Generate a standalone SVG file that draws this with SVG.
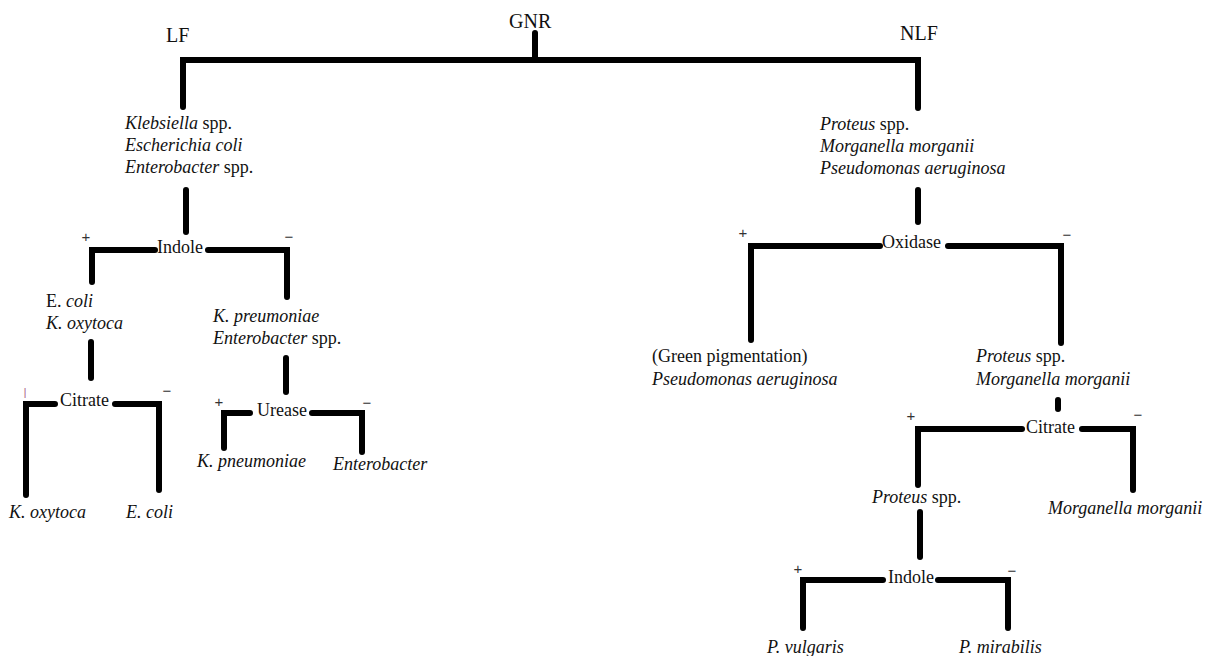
<svg xmlns="http://www.w3.org/2000/svg" width="1206" height="656" viewBox="0 0 1206 656">
<style>
text{font-family:"Liberation Serif","Times New Roman",serif;font-size:18px;fill:#111}
.top{font-size:20px}
.i{font-style:italic}
.sg{font-family:"Liberation Sans",Arial,sans-serif;font-size:15px;text-anchor:middle;fill:#333}
.ln{fill:none;stroke:#000;stroke-width:6;stroke-linecap:round;stroke-linejoin:miter}
</style>
<rect width="1206" height="656" fill="#fff"/>
<g id="connectors" class="ln">
<path d="M535 33V60"/>
<path d="M183 107V60H918V108"/>
<path d="M186 190V232"/>
<path d="M92 282V250H155"/>
<path d="M208 250H287V297"/>
<path d="M91 342V378"/>
<path d="M26 495V404H55"/>
<path d="M115 404H159V490"/>
<path d="M286 358V392"/>
<path d="M224 448V413H250"/>
<path d="M312 413H362V452"/>
<path d="M918 190V222"/>
<path d="M751 340V246H880"/>
<path d="M948 246H1061V343"/>
<path d="M1058 400V409"/>
<path d="M918 485V429H1022"/>
<path d="M1082 429H1133V490"/>
<path d="M920 512V557"/>
<path d="M803 628V580H883"/>
<path d="M938 580H1008V628"/>
</g>
<g id="gnr"><text class="top" x="509" y="28">GNR</text></g>
<g id="lf"><text class="top" x="166" y="42">LF</text></g>
<g id="nlf"><text class="top" x="900" y="40">NLF</text></g>
<g id="lf-group">
<text x="125" y="129"><tspan class="i">Klebsiella</tspan> spp.</text>
<text x="125" y="151" class="i">Escherichia coli</text>
<text x="125" y="173"><tspan class="i">Enterobacter</tspan> spp.</text>
</g>
<g id="indole-left">
<text x="157" y="253">Indole</text>
<text class="sg" x="86" y="242">+</text>
<text class="sg" x="289" y="242">−</text>
</g>
<g id="ecoli-koxytoca">
<text x="46" y="307">E. <tspan class="i">coli</tspan></text>
<text x="46" y="329" class="i">K. oxytoca</text>
</g>
<g id="kpneu-entero">
<text x="213" y="322" class="i">K. preumoniae</text>
<text x="213" y="344"><tspan class="i">Enterobacter</tspan> spp.</text>
</g>
<g id="citrate-left">
<text x="60" y="406">Citrate</text>
<text class="sg" x="25" y="396" style="font-size:10px;fill:#a04a78">|</text>
<text class="sg" x="167" y="396">−</text>
</g>
<g id="koxytoca"><text x="9" y="518" class="i">K. oxytoca</text></g>
<g id="ecoli"><text x="126" y="518" class="i">E. coli</text></g>
<g id="urease">
<text x="257" y="416">Urease</text>
<text class="sg" x="219" y="407">+</text>
<text class="sg" x="367" y="408">−</text>
</g>
<g id="kpneumoniae"><text x="197" y="467" class="i">K. pneumoniae</text></g>
<g id="enterobacter"><text x="333" y="470" class="i">Enterobacter</text></g>
<g id="nlf-group">
<text x="820" y="130"><tspan class="i">Proteus</tspan> spp.</text>
<text x="820" y="152" class="i">Morganella morganii</text>
<text x="820" y="174" class="i">Pseudomonas aeruginosa</text>
</g>
<g id="oxidase">
<text x="882" y="248">Oxidase</text>
<text class="sg" x="743" y="238">+</text>
<text class="sg" x="1067" y="240">−</text>
</g>
<g id="pseudomonas">
<text x="652" y="362">(Green pigmentation)</text>
<text x="652" y="385" class="i">Pseudomonas aeruginosa</text>
</g>
<g id="proteus-morganella">
<text x="976" y="362"><tspan class="i">Proteus</tspan> spp.</text>
<text x="976" y="385" class="i">Morganella morganii</text>
</g>
<g id="citrate-right">
<text x="1026" y="433">Citrate</text>
<text class="sg" x="911" y="421">+</text>
<text class="sg" x="1138" y="420">−</text>
</g>
<g id="proteus"><text x="872" y="503"><tspan class="i">Proteus</tspan> spp.</text></g>
<g id="morganella"><text x="1048" y="514" class="i">Morganella morganii</text></g>
<g id="indole-right">
<text x="888" y="583">Indole</text>
<text class="sg" x="798" y="574">+</text>
<text class="sg" x="1012" y="576">−</text>
</g>
<g id="pvulgaris"><text x="767" y="653" class="i">P. vulgaris</text></g>
<g id="pmirabilis"><text x="959" y="653" class="i">P. mirabilis</text></g>
</svg>
